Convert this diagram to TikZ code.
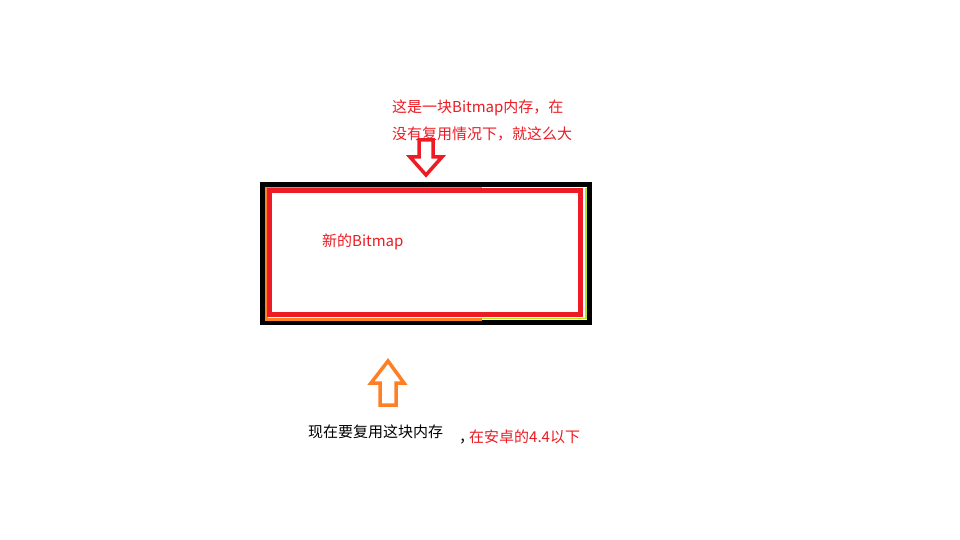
\documentclass[tikz,border=0pt]{standalone}
\usepackage{fontspec}
\usepackage{xcolor}
\usepackage{tikz}
\newfontfamily\cjk{Noto Sans CJK SC}
\definecolor{paintred}{HTML}{ED1C24}
\definecolor{paintorange}{HTML}{FF7F27}
\definecolor{paintlime}{HTML}{B5E61D}

\begin{document}
\begin{tikzpicture}[x=1pt, y=-1pt, every node/.style={inner sep=0pt, anchor=west, font=\cjk\fontsize{15}{17}\selectfont}, note/.style={text=paintred}, blockarrow/.style={line width=3.5pt, fill=white, line join=miter}]
  \useasboundingbox[fill=white] (0,0) rectangle (960,540);
  % the memory block
  \draw[line width=5pt] (262.5,184.5) rectangle (589.5,322.5);
  \draw[paintlime, line width=1.2pt] (482,318.5) -- (586,318.5) -- (586,188);
  \draw[paintorange, line width=3pt] (482,188) -- (266.5,188) -- (266.5,319) -- (482,319);
  \draw[paintred, line width=5pt] (269.5,190.5) rectangle (580.5,314.5);
  % arrows
  \draw[blockarrow, draw=paintred] (419,140) -- (433,140) -- (433,157) -- (442,157) -- (426,175) -- (410,157) -- (419,157) -- cycle;
  \draw[blockarrow, draw=paintorange] (388,361) -- (404,383) -- (396,383) -- (396,405) -- (380,405) -- (380,383) -- (371,383) -- cycle;
  % texts
  \node[note] (size1) at (392,108) {这是一块Bitmap内存，在};
  \node[note] (size2) at (392,134) {没有复用情况下，就这么大};
  \node[note] (newbmp) at (322,242) {新的Bitmap};
  \node (reuse) at (308,432) {现在要复用这块内存};
  \node (android) at (459,437) {，\hspace{-5pt}\textcolor{paintred}{在安卓的4.4以下}};
\end{tikzpicture}
\end{document}
